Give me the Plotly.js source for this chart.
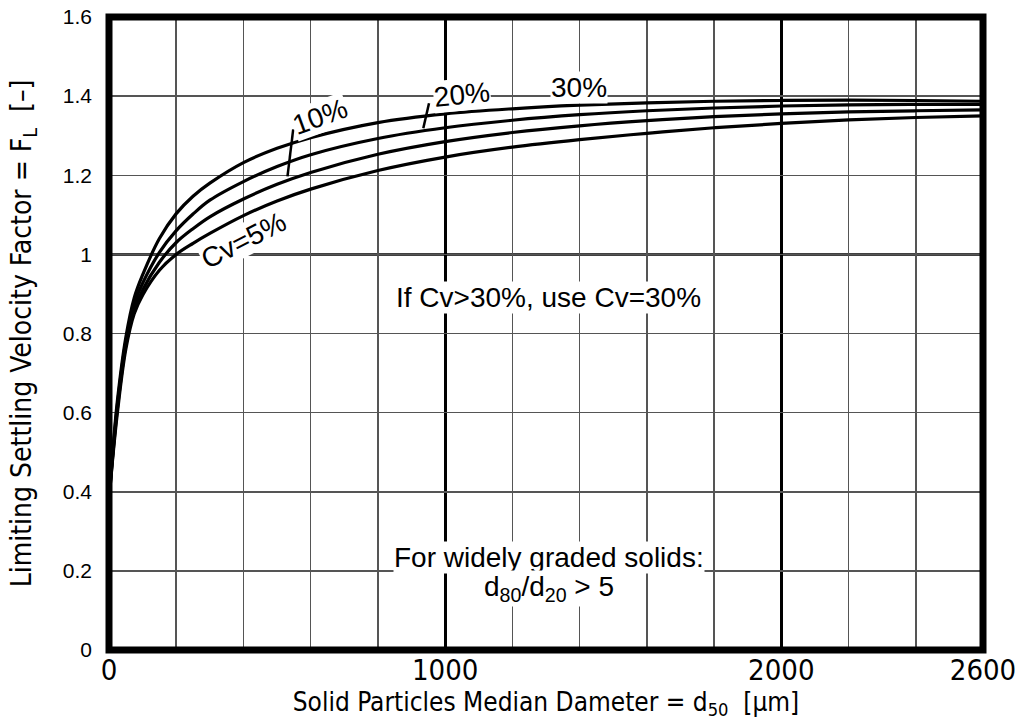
<!DOCTYPE html>
<html>
<head>
<meta charset="utf-8">
<script src="https://cdn.plot.ly/plotly-3.0.1.min.js"></script>
<style>html,body{margin:0;padding:0;background:#fff;}#chart{width:1016px;height:724px;}</style>
</head>
<body>
<div id="chart"></div>
<script>
// Particle median diameter d50 [µm]
const d50 = [0, 10, 25, 50, 75, 100, 150, 200, 250, 300, 400, 500, 600, 800, 1000, 1200, 1400, 1600, 1800, 2000, 2200, 2400, 2600];
// Limiting settling velocity factor FL for each volumetric concentration
const cv30 = [0.38, 0.49, 0.63, 0.79, 0.89, 0.948, 1.04, 1.103, 1.147, 1.180, 1.232, 1.268, 1.295, 1.333, 1.355, 1.368, 1.377, 1.383, 1.387, 1.389, 1.390, 1.389, 1.387];
const cv20 = [0.38, 0.485, 0.62, 0.78, 0.875, 0.927, 1.005, 1.060, 1.102, 1.137, 1.184, 1.222, 1.252, 1.293, 1.320, 1.339, 1.353, 1.363, 1.370, 1.375, 1.378, 1.379, 1.379];
const cv10 = [0.38, 0.48, 0.61, 0.77, 0.86, 0.91, 0.98, 1.030, 1.065, 1.095, 1.140, 1.177, 1.207, 1.253, 1.285, 1.308, 1.325, 1.338, 1.348, 1.355, 1.360, 1.363, 1.365];
const cv5  = [0.38, 0.475, 0.60, 0.76, 0.85, 0.897, 0.96, 1.000, 1.028, 1.053, 1.098, 1.135, 1.165, 1.212, 1.246, 1.271, 1.290, 1.306, 1.320, 1.331, 1.340, 1.346, 1.350];
const seriesNames = ["Cv=30%", "Cv=20%", "Cv=10%", "Cv=5%"];

const xTickVals = [0, 1000, 2000, 2600];
const xTickText = ["0", "1000", "2000", "2600"];
const yTickVals = [0, 0.2, 0.4, 0.6, 0.8, 1, 1.2, 1.4, 1.6];
const yTickText = ["0", "0.2", "0.4", "0.6", "0.8", "1", "1.2", "1.4", "1.6"];

const narrow = '"Liberation Sans Narrow", "Arial Narrow", "DejaVu Sans Condensed", sans-serif';
const sans = '"Liberation Sans", Arial, sans-serif';

const allSeries = [cv30, cv20, cv10, cv5];
const traces = allSeries.map((ys, i) => ({
  x: d50, y: ys, type: 'scatter', mode: 'lines', name: seriesNames[i],
  line: {color: '#000', width: 3.2, shape: 'spline', smoothing: 1.0},
  hoverinfo: 'x+y+name'
}));

const shapes = [
  // heavier grid line at FL = 1
  {type: 'line', xref: 'paper', yref: 'y', x0: 0, x1: 1, y0: 1, y1: 1, line: {color: '#000', width: 2.5}, layer: 'below'},
  // leader lines
  {type: 'line', xref: 'x', yref: 'y', x0: 548, y0: 1.316, x1: 531, y1: 1.197, line: {color: '#000', width: 2.5}},
  {type: 'line', xref: 'x', yref: 'y', x0: 952, y0: 1.382, x1: 935, y1: 1.319, line: {color: '#000', width: 2.5}},
  // heavy frame
  {type: 'rect', xref: 'paper', yref: 'paper', x0: 0, x1: 1, y0: 0, y1: 1, line: {color: '#000', width: 7}, fillcolor: 'rgba(0,0,0,0)', layer: 'above'}
];

const annFont = {family: sans, size: 28, color: '#000'};
const annotations = [
  {x: 1308, y: 0.892, xref: 'x', yref: 'y', text: 'If Cv&gt;30%, use Cv=30%', showarrow: false, font: annFont, bgcolor: '#fff', borderpad: 0},
  {x: 1308, y: 0.235, xref: 'x', yref: 'y', text: 'For widely graded solids:', showarrow: false, font: annFont, bgcolor: '#fff', borderpad: 0},
  {x: 1308, y: 0.155, xref: 'x', yref: 'y', text: 'd<sub>80</sub>/d<sub>20</sub> &gt; 5', showarrow: false, font: annFont, bgcolor: '#fff', borderpad: 0},
  {x: 1399, y: 1.421, xref: 'x', yref: 'y', text: '30%', showarrow: false, font: annFont, bgcolor: '#fff', borderpad: 0},
  {x: 1051, y: 1.403, xref: 'x', yref: 'y', text: '20%', showarrow: false, font: annFont, bgcolor: '#fff', borderpad: 0, textangle: -6},
  {x: 629, y: 1.348, xref: 'x', yref: 'y', text: '10%', showarrow: false, font: annFont, bgcolor: '#fff', borderpad: 0, textangle: -20},
  {x: 399, y: 1.036, xref: 'x', yref: 'y', text: 'Cv=5%', showarrow: false, font: annFont, bgcolor: '#fff', borderpad: 0, textangle: -27}
];

const layout = {
  width: 1016, height: 724,
  margin: {l: 109, r: 33, t: 17, b: 74},
  paper_bgcolor: '#fff', plot_bgcolor: '#fff',
  showlegend: false,
  xaxis: {
    range: [0, 2600], tickmode: 'array', tickvals: xTickVals, ticktext: xTickText,
    showgrid: true, gridcolor: '#000', gridwidth: 3, zeroline: false,
    minor: {tick0: 0, dtick: 200, showgrid: true, gridcolor: '#555', gridwidth: 1.5, ticks: ''},
    showline: false, ticklabeloverflow: 'allow',
    ticks: '', ticklen: 0, tickfont: {family: narrow, size: 29, color: '#000'},
    title: {text: 'Solid Particles Median Dameter = d<sub>50</sub>  [µm]', font: {family: narrow, size: 26, color: '#000'}, standoff: 4}
  },
  yaxis: {
    range: [0, 1.6], tickmode: 'array', tickvals: yTickVals, ticktext: yTickText,
    showgrid: true, gridcolor: '#555', gridwidth: 1.5, zeroline: false,
    showline: false, ticklabelstandoff: 16,
    ticks: '', ticklen: 0, tickfont: {family: sans, size: 21, color: '#000'},
    title: {text: 'Limiting Settling Velocity Factor = F<sub>L</sub>  [–]', font: {family: narrow, size: 28, color: '#000'}, standoff: 22}
  },
  shapes: shapes,
  annotations: annotations
};

Plotly.newPlot('chart', traces, layout, {displayModeBar: false, staticPlot: true});
</script>
</body>
</html>
